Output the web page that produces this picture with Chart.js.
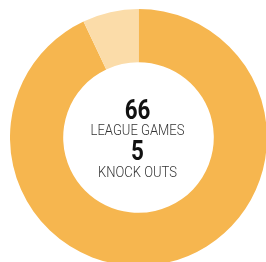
<!DOCTYPE html>
<html>
<head>
<meta charset="utf-8">
<script src="https://cdn.jsdelivr.net/npm/chart.js@4"></script>
<style>
  html, body { margin: 0; padding: 0; background: #fff; overflow: hidden; }
  #wrap { position: absolute; left: 10px; top: 9px; width: 257px; height: 257px; }
</style>
</head>
<body>
<div id="wrap"><canvas id="gamesChart"></canvas></div>
<script>
const labels = ["League Games", "Knock Outs"];
const games = [66, 5];
const sliceColors = ["#F6B64F", "#FBDCA9"];

// text in the hole
const centerText = {
  id: "centerText",
  afterDraw(chart) {
    const ctx = chart.ctx;
    const arc = chart.getDatasetMeta(0).data[0];
    const cx = arc.x - 1;
    const cy = arc.y;
    const lines = [
      { text: String(games[0]), font: "bold 28px Roboto", color: "#111", dy: -18.5, sx: 0.8 },
      { text: "LEAGUE GAMES", font: "300 15.5px Roboto", color: "#333", dy: -2.5, sx: 0.84 },
      { text: String(games[1]), font: "bold 28px Roboto", color: "#111", dy: 22.5, sx: 0.8 },
      { text: "KNOCK OUTS", font: "300 15.5px Roboto", color: "#333", dy: 39.8, sx: 0.84 },
    ];
    ctx.save();
    ctx.textAlign = "center";
    ctx.textBaseline = "alphabetic";
    lines.forEach((l) => {
      ctx.save();
      ctx.translate(cx, cy + l.dy);
      ctx.scale(l.sx, 1);
      ctx.font = l.font;
      ctx.fillStyle = l.color;
      ctx.fillText(l.text, 0, 0);
      ctx.restore();
    });
    ctx.restore();
  },
};

new Chart(document.getElementById("gamesChart"), {
  type: "doughnut",
  data: {
    labels: labels,
    datasets: [
      {
        data: games,
        backgroundColor: sliceColors,
        borderWidth: 0,
      },
    ],
  },
  options: {
    responsive: true,
    maintainAspectRatio: false,
    animation: false,
    cutout: "58.6%",
    layout: { padding: 0 },
    plugins: {
      legend: { display: false },
      tooltip: { enabled: false },
    },
  },
  plugins: [centerText],
});
</script>
</body>
</html>
